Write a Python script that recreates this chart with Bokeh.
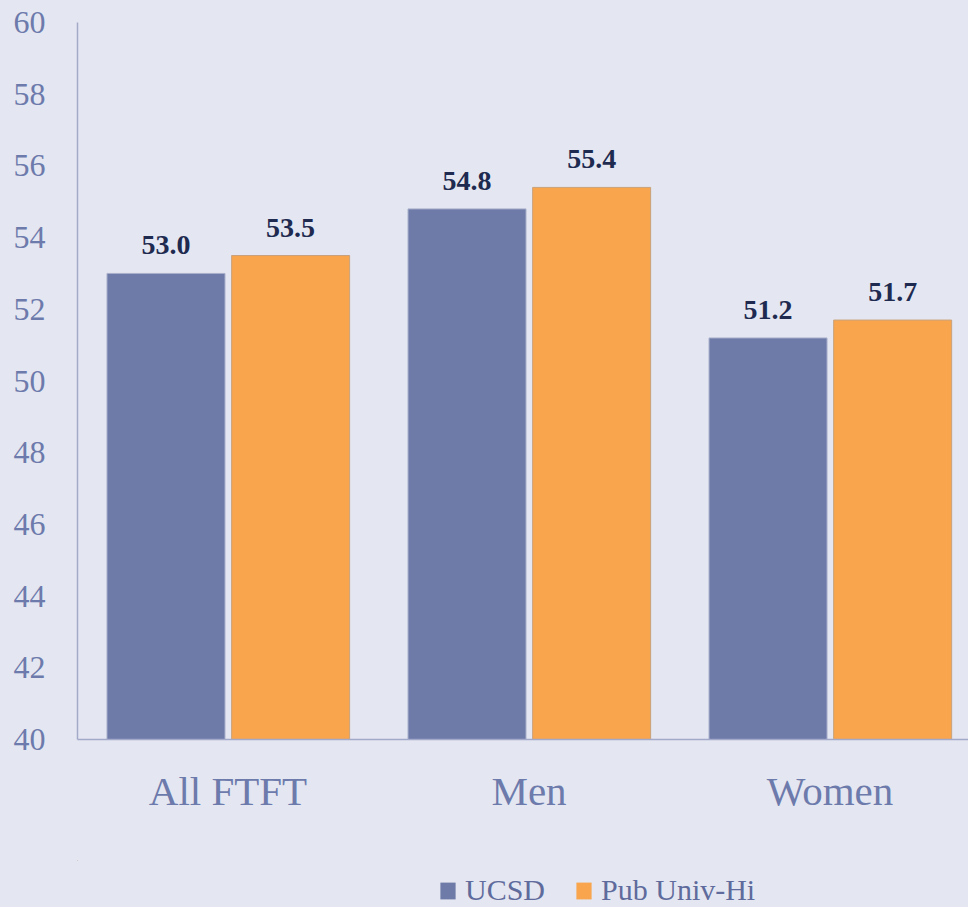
from bokeh.plotting import figure
from bokeh.layouts import column
from bokeh.models import ColumnDataSource, Range1d, FixedTicker, LabelSet, Legend, LegendItem
from bokeh.transform import dodge
from bokeh.embed import file_html
from bokeh.resources import INLINE

categories = ["All FTFT", "Men", "Women"]
ucsd = [53.0, 54.8, 51.2]
pub_univ_hi = [53.5, 55.4, 51.7]
y_ticks = [40, 42, 44, 46, 48, 50, 52, 54, 56, 58, 60]
series_names = ["UCSD", "Pub Univ-Hi"]

BG = "#E4E7F1"
C_UCSD = "#6E7AA8"
C_PUB = "#F8A54D"
AXIS_COL = "#A3A9C9"
TEXT_COL = "#6D7AAC"
LABEL_COL = "#1E2A50"
FONT = "Liberation Serif"

pos = [i + 0.5 for i in range(len(categories))]
src = ColumnDataSource(dict(
    x=pos,
    ucsd=ucsd,
    pub=pub_univ_hi,
    ucsd_lbl=[f"{v:.1f}" for v in ucsd],
    pub_lbl=[f"{v:.1f}" for v in pub_univ_hi],
))

p = figure(width=968, height=860,
           x_range=Range1d(0, 2.96), y_range=Range1d(40, 60),
           output_backend="svg", toolbar_location=None,
           background_fill_color=BG, border_fill_color=BG,
           outline_line_color=None,
           min_border_left=77, min_border_top=22, min_border_right=0,
           min_border_bottom=121)

p.xgrid.grid_line_color = None
p.ygrid.grid_line_color = None

bw = 0.392
p.vbar(x=dodge("x", -0.206, range=p.x_range), top="ucsd", bottom=40, width=bw,
       source=src, fill_color=C_UCSD, line_color="#A9AFCB", line_width=1)
p.vbar(x=dodge("x", 0.208, range=p.x_range), top="pub", bottom=40, width=bw,
       source=src, fill_color=C_PUB, line_color="#C9A27C", line_width=1)

for col, lbl, off in [("ucsd", "ucsd_lbl", -0.206), ("pub", "pub_lbl", 0.208)]:
    ls = LabelSet(x=dodge("x", off, range=p.x_range), y=col, text=lbl, source=src,
                  y_offset=19, text_align="center", text_baseline="alphabetic",
                  text_font=FONT, text_font_style="bold", text_font_size="28px",
                  text_color=LABEL_COL)
    p.add_layout(ls)

# y axis
p.yaxis.ticker = FixedTicker(ticks=y_ticks)
p.yaxis.major_tick_line_color = None
p.yaxis.minor_tick_line_color = None
p.yaxis.axis_line_color = AXIS_COL
p.yaxis.axis_line_width = 1.5
p.yaxis.major_label_text_font = FONT
p.yaxis.major_label_text_font_size = "32px"
p.yaxis.major_label_text_color = TEXT_COL
p.yaxis.major_label_standoff = 26

# x axis
p.xaxis.ticker = FixedTicker(ticks=pos)
p.xaxis.major_label_overrides = {x: c for x, c in zip(pos, categories)}
p.xaxis.major_tick_line_color = None
p.xaxis.minor_tick_line_color = None
p.xaxis.axis_line_color = AXIS_COL
p.xaxis.axis_line_width = 1.5
p.xaxis.major_label_text_font = FONT
p.xaxis.major_label_text_font_size = "41px"
p.xaxis.major_label_text_color = TEXT_COL
p.xaxis.major_label_standoff = 22

# legend strip below the chart (same series, kept outside its visible range)
lg = figure(width=968, height=47, x_range=Range1d(10, 11), y_range=Range1d(0, 1),
            output_backend="svg", toolbar_location=None,
            x_axis_type=None, y_axis_type=None,
            background_fill_color=BG, background_fill_alpha=0,
            border_fill_color=BG,
            outline_line_color=None, min_border=0)
lg.xgrid.grid_line_color = None
lg.ygrid.grid_line_color = None
k1 = lg.vbar(x="x", top="ucsd", bottom=40, width=0.1, source=src,
             fill_color=C_UCSD, line_color=None)
k2 = lg.vbar(x="x", top="pub", bottom=40, width=0.1, source=src,
             fill_color=C_PUB, line_color=None)
legend = Legend(items=[LegendItem(label=series_names[0], renderers=[k1]),
                       LegendItem(label=series_names[1], renderers=[k2])],
                orientation="horizontal", location=(361, 0),
                background_fill_alpha=0, border_line_color=None,
                padding=0, margin=0, spacing=29,
                glyph_width=19, glyph_height=21, label_standoff=8,
                label_text_font=FONT, label_text_font_size="30px",
                label_text_color="#5F6B9C")
lg.add_layout(legend, "center")

layout = column(p, lg, spacing=0, styles={"background-color": BG})
open("out.html", "w").write(file_html(layout, INLINE))
